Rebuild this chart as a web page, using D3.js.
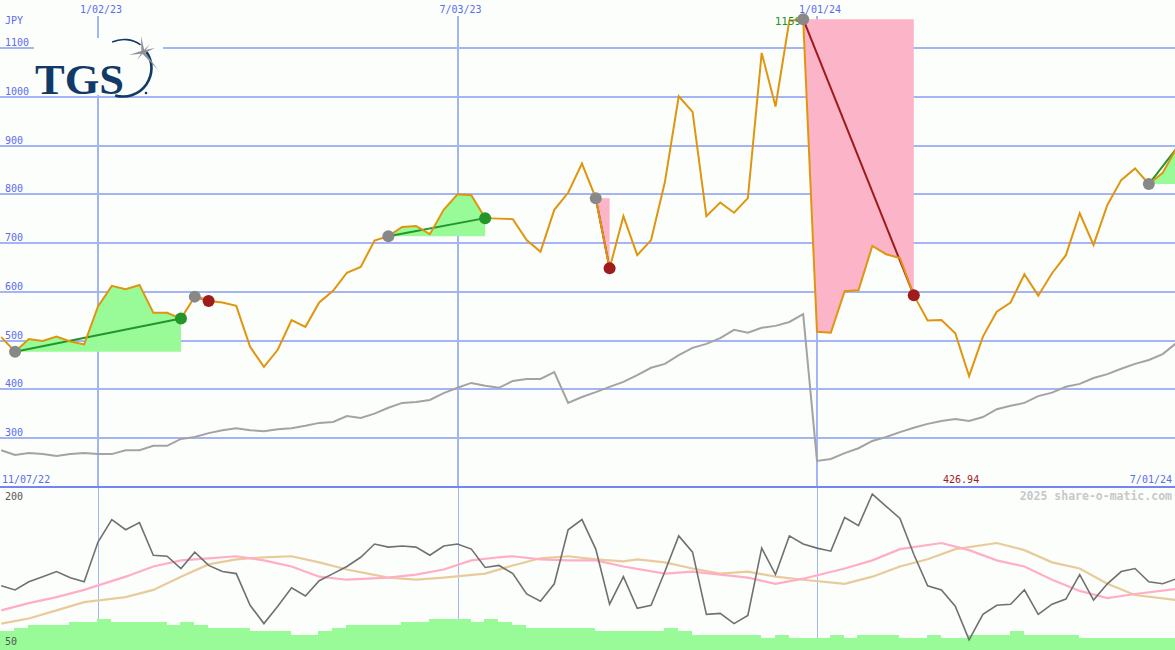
<!DOCTYPE html>
<html>
<head>
<meta charset="utf-8">
<title>TGS weekly chart</title>
<script src="https://cdn.jsdelivr.net/npm/d3@7"></script>
<style>
    body { margin: 0; background: #fcfefc; }
    svg { display: block; }
    text { font-family: "DejaVu Sans Mono", monospace; font-size: 10px; }
</style>
</head>
<body>
<div id="chart"></div>
<script>
var width = 1175, height = 650;

// weekly closes in JPY, first week 11/14/22
var startDate = new Date(2022, 10, 14);
var price = [507, 477, 503, 499, 508, 498, 492, 570, 612, 605,
    614, 557, 557, 545, 590, 581, 578, 571, 487, 446,
    481, 542, 528, 578, 602, 639, 651, 705, 714, 733,
    735, 718, 768, 800, 798, 751, 750, 749, 706, 682,
    768, 803, 863, 792, 648, 755, 675, 706, 825, 1001,
    969, 755, 783, 762, 792, 1090, 980, 1156, 1159, 518,
    516, 601, 603, 694, 677, 669, 593, 541, 542, 515,
    426.94, 508, 559, 578, 636, 592, 638, 675, 761, 696,
    778, 829, 853, 821, 844, 894];

// comparison index (grey line), same scale
var compare = [275, 265, 269, 267, 263, 267, 269, 267, 267, 275,
    275, 284, 284, 298, 302, 310, 316, 320, 316, 314,
    318, 320, 325, 331, 333, 345, 341, 350, 362, 372,
    374, 378, 392, 403, 413, 407, 403, 417, 421, 421,
    435, 372, 384, 394, 405, 415, 429, 444, 452, 470,
    485, 493, 505, 522, 516, 526, 530, 538, 554, 253,
    257, 269, 279, 294, 302, 312, 321, 329, 335, 339,
    335, 343, 359, 366, 372, 386, 393, 405, 411, 423,
    431, 442, 452, 460, 472, 495];

// lower panel oscillator
var osc = [108, 104, 112, 117, 122, 116, 112, 151, 173, 163,
    170, 138, 137, 125, 141, 128, 122, 120, 89, 71,
    88, 106, 98, 113, 120, 127, 136, 149, 146, 147,
    146, 138, 147, 149, 144, 126, 128, 120, 100, 93,
    110, 163, 173, 144, 90, 117, 86, 89, 122, 157,
    141, 80, 81, 71, 79, 145, 119, 157, 149, 145,
    142, 175, 167, 198, 186, 174, 139, 108, 104, 88,
    55, 80, 89, 90, 104, 80, 90, 95, 119, 94,
    110, 122, 125, 112, 110, 115];

var pinkWeeks = [0, 2, 4, 6, 9, 11, 13, 15, 17, 19, 21, 23, 25, 28, 30, 32, 34, 36, 37, 39, 41,
    43, 45, 48, 50, 52, 54, 56, 58, 61, 63, 65, 68, 70, 72, 74, 76, 78, 80, 82, 85];
var pinkVals = [84, 91, 97, 104, 117, 127, 133, 135, 137, 133, 127, 117, 114, 116, 119, 124, 133, 136, 137, 134, 133,
    133, 127, 120, 122, 119, 116, 110, 115, 125, 133, 144, 150, 143, 133, 127, 114, 103, 96, 100, 105];

var tanWeeks = [0, 2, 4, 6, 9, 11, 13, 15, 17, 19, 21, 23, 25, 28, 30, 32, 35, 37, 39, 41,
    43, 45, 46, 48, 50, 52, 54, 56, 58, 61, 63, 65, 67, 69, 72, 74, 76, 78, 80, 82, 85];
var tanVals = [71, 76, 84, 92, 97, 104, 117, 129, 134, 136, 137, 131, 124, 116, 114, 116, 120, 128, 135, 137,
    134, 132, 134, 131, 125, 120, 122, 117, 114, 110, 117, 127, 134, 144, 150, 143, 131, 125, 110, 99, 94];

// weekly volume (millions)
var volume = [1.9, 2.2, 2.5, 2.5, 2.5, 2.8, 2.8, 3.1, 2.8, 2.8,
    2.8, 2.8, 2.5, 2.8, 2.5, 2.2, 2.2, 2.2, 1.9, 1.9,
    1.9, 1.5, 1.5, 1.9, 2.2, 2.5, 2.5, 2.5, 2.5, 2.8,
    2.8, 3.1, 3.1, 3.1, 2.8, 3.1, 2.8, 2.5, 2.2, 2.2,
    2.2, 2.2, 2.2, 1.9, 1.9, 1.9, 1.9, 1.9, 2.2, 1.9,
    1.5, 1.5, 1.5, 1.5, 1.5, 1.2, 1.5, 1.2, 1.2, 1.2,
    1.5, 1.2, 1.5, 1.5, 1.5, 1.2, 1.2, 1.5, 1.2, 1.2,
    1.5, 1.5, 1.5, 1.9, 1.5, 1.5, 1.5, 1.5, 1.2, 1.2,
    1.2, 1.2, 1.2, 1.2, 1.2, 1.2];

var priceTicks = [300, 400, 500, 600, 700, 800, 900, 1000, 1100];
var dateTicks = [new Date(2023, 0, 2), new Date(2023, 6, 3), new Date(2024, 0, 1)];
var fmtDate = d3.timeFormat("%-m/%d/%y");

// trade signals: entry week, exit week (last one still open)
var tradeIn = [1, 14, 28, 43, 58, 83];
var tradeOut = [13, 15, 35, 44, 66, 85];
var tradeOpen = [false, false, false, false, false, true];

var dates = price.map(function (d, i) { return d3.timeMonday.offset(startDate, i); });

var svg = d3.select("#chart")
    .append("svg")
    .attr("width", width)
    .attr("height", height);

svg.append("rect").attr("width", width).attr("height", height).attr("fill", "#fcfefc");

var x = d3.scaleTime().domain([dateTicks[0], dateTicks[2]]).range([98, 817]);
var y = d3.scaleLinear().domain([200, 1100]).range([486.75, 48]);
var lowY = d3.scaleLinear().domain([50, 200]).range([645, 492]);
var volY = d3.scaleLinear().domain([0, 3.1]).range([650, 619]);

var grid = "#a4b4f4", labelBlue = "#5a6cf0";

// horizontal grid
svg.append("g").selectAll("line")
    .data(priceTicks)
    .enter()
    .append("line")
    .attr("x1", 0).attr("x2", width)
    .attr("y1", function (d) { return Math.round(y(d)); })
    .attr("y2", function (d) { return Math.round(y(d)); })
    .attr("stroke", grid)
    .attr("stroke-width", 2)
    .attr("shape-rendering", "crispEdges");

// vertical grid, upper and lower panel
svg.append("g").selectAll("line")
    .data(dateTicks)
    .enter()
    .append("line")
    .attr("x1", function (d) { return Math.round(x(d)); })
    .attr("x2", function (d) { return Math.round(x(d)); })
    .attr("y1", 16).attr("y2", y(200))
    .attr("stroke", grid)
    .attr("stroke-width", 2)
    .attr("shape-rendering", "crispEdges");

svg.append("g").selectAll("line")
    .data(dateTicks)
    .enter()
    .append("line")
    .attr("x1", function (d) { return Math.round(x(d)) + 0.5; })
    .attr("x2", function (d) { return Math.round(x(d)) + 0.5; })
    .attr("y1", y(200)).attr("y2", height)
    .attr("stroke", grid)
    .attr("stroke-width", 1);

// trade fills
var fills = svg.append("g");
tradeIn.forEach(function (a, t) {
    var b = tradeOut[t];
    var win = price[b] > price[a];
    var area = d3.area()
        .x(function (i) { return x(dates[i]); })
        .y0(y(price[a]))
        .y1(function (i) { return y(price[i]); });
    fills.append("path")
        .attr("d", area(d3.range(a, b + 1)))
        .attr("fill", win ? "#98fb98" : "#fbb4c8");
});

var line = d3.line()
    .x(function (d, i) { return x(dates[i]); })
    .y(function (d) { return y(d); });

svg.append("path")
    .attr("d", line(compare))
    .attr("fill", "none")
    .attr("stroke", "#a3a3a3")
    .attr("stroke-width", 2);

// trade lines sit under the price line
tradeIn.forEach(function (a, t) {
    var b = tradeOut[t];
    var win = price[b] > price[a];
    svg.append("line")
        .attr("x1", x(dates[a])).attr("y1", y(price[a]))
        .attr("x2", x(dates[b])).attr("y2", y(price[b]))
        .attr("stroke", win ? "#23952b" : "#9e1a1a")
        .attr("stroke-width", 2);
});

svg.append("path")
    .attr("d", line(price))
    .attr("fill", "none")
    .attr("stroke", "#e0950e")
    .attr("stroke-width", 2);

// max label, then dots
var iMax = d3.maxIndex(price), iMin = d3.minIndex(price);
svg.append("text")
    .attr("x", x(dates[iMax]) - 2).attr("y", 25)
    .attr("text-anchor", "end")
    .attr("fill", "#23952b")
    .style("font-size", "11px")
    .text(Math.round(price[iMax]));

tradeIn.forEach(function (a, t) {
    var b = tradeOut[t];
    var win = price[b] > price[a];
    svg.append("circle")
        .attr("cx", x(dates[a])).attr("cy", y(price[a])).attr("r", 6)
        .attr("fill", "#888888");
    if (!tradeOpen[t]) {
        svg.append("circle")
            .attr("cx", x(dates[b])).attr("cy", y(price[b])).attr("r", 6)
            .attr("fill", win ? "#23952b" : "#a01c1c");
    }
});

// axis labels
svg.append("text").attr("x", 5).attr("y", 24).attr("fill", labelBlue).text("JPY");

svg.append("g").selectAll("text")
    .data(priceTicks)
    .enter()
    .append("text")
    .attr("x", 5)
    .attr("y", function (d) { return Math.round(y(d)) - 2; })
    .attr("fill", labelBlue)
    .text(function (d) { return d; });

svg.append("g").selectAll("text")
    .data(dateTicks)
    .enter()
    .append("text")
    .attr("x", function (d) { return x(d) + 3; })
    .attr("y", 13)
    .attr("text-anchor", "middle")
    .attr("fill", labelBlue)
    .text(fmtDate);

// panel divider
svg.append("line")
    .attr("x1", 0).attr("x2", width)
    .attr("y1", Math.round(y(200))).attr("y2", Math.round(y(200)))
    .attr("stroke", "#7484f2")
    .attr("stroke-width", 2)
    .attr("shape-rendering", "crispEdges");

svg.append("text").attr("x", 2).attr("y", 483).attr("fill", labelBlue)
    .text(fmtDate(d3.timeMonday.offset(startDate, -1)));
svg.append("text").attr("x", 1172).attr("y", 483).attr("text-anchor", "end").attr("fill", labelBlue)
    .text(fmtDate(dates[dates.length - 1]));
svg.append("text").attr("x", x(dates[iMin]) - 8).attr("y", 483).attr("text-anchor", "middle")
    .attr("fill", "#a01c1c")
    .text(d3.format(".2f")(price[iMin]));

// lower panel
var step = x(dates[1]) - x(dates[0]);
svg.append("g").selectAll("rect")
    .data(volume)
    .enter()
    .append("rect")
    .attr("x", function (d, i) { return i === 0 ? 0 : x(dates[i]) - 1; })
    .attr("width", function (d, i) { return i === 0 ? x(dates[1]) - 1 : step + 0.5; })
    .attr("y", function (d) { return volY(d); })
    .attr("height", function (d) { return height - volY(d); })
    .attr("fill", "#98fb98")
    .attr("shape-rendering", "crispEdges");

var maLine = d3.line()
    .x(function (d) { return x(dates[d[0]]); })
    .y(function (d) { return lowY(d[1]); });

svg.append("path")
    .attr("d", maLine(d3.zip(tanWeeks, tanVals)))
    .attr("fill", "none")
    .attr("stroke", "#e8cb9b")
    .attr("stroke-width", 2.2);

svg.append("path")
    .attr("d", maLine(d3.zip(pinkWeeks, pinkVals)))
    .attr("fill", "none")
    .attr("stroke", "#ffaec6")
    .attr("stroke-width", 2.2);

svg.append("path")
    .attr("d", d3.line()
        .x(function (d, i) { return x(dates[i]); })
        .y(function (d) { return lowY(d); })(osc))
    .attr("fill", "none")
    .attr("stroke", "#707070")
    .attr("stroke-width", 1.6);

svg.append("text").attr("x", 5).attr("y", 500).attr("fill", "#555555").text("200");
svg.append("text").attr("x", 5).attr("y", 645).attr("fill", "#555555").text("50");
svg.append("text")
    .attr("x", 1172).attr("y", 500)
    .attr("text-anchor", "end")
    .attr("fill", "#c8c8c8")
    .style("font-size", "11.5px")
    .style("font-weight", "bold")
    .text("2025 share-o-matic.com");

// logo
var logo = svg.append("g");
logo.append("rect")
    .attr("x", 34).attr("y", 38).attr("width", 129).attr("height", 57)
    .attr("fill", "#fcfefc");
logo.append("text")
    .attr("x", 35).attr("y", 94)
    .attr("textLength", 89)
    .attr("lengthAdjust", "spacingAndGlyphs")
    .style("font-family", "'Liberation Serif', 'DejaVu Serif', serif")
    .style("font-size", "43px")
    .style("font-weight", "bold")
    .attr("fill", "#123a68")
    .text("TGS");

var arcPath = d3.path();
arcPath.arc(124, 68, 28.5, -2.0, -0.95, false);
logo.append("path").attr("d", arcPath.toString())
    .attr("fill", "none").attr("stroke", "#123a68").attr("stroke-width", 1.6);
var arcPath2 = d3.path();
arcPath2.arc(123, 68, 28.5, -0.6, 1.85, false);
logo.append("path").attr("d", arcPath2.toString())
    .attr("fill", "none").attr("stroke", "#123a68").attr("stroke-width", 2.6);

var star = [[141, 36], [158, 70], [129, 55], [155, 48], [150, 44], [137, 60]];
var sc = [143, 52];
star.forEach(function (p, i) {
    var dx = p[0] - sc[0], dy = p[1] - sc[1];
    var len = Math.sqrt(dx * dx + dy * dy);
    var w = i < 4 ? 1.6 : 0.9;
    var nx = -dy / len * w, ny = dx / len * w;
    logo.append("path")
        .attr("d", "M" + (sc[0] + nx) + "," + (sc[1] + ny) + "L" + p[0] + "," + p[1] +
            "L" + (sc[0] - nx) + "," + (sc[1] - ny) + "Z")
        .attr("fill", "#8c9096");
});
logo.append("circle").attr("cx", 146).attr("cy", 93).attr("r", 1.3).attr("fill", "#123a68");
</script>
</body>
</html>
